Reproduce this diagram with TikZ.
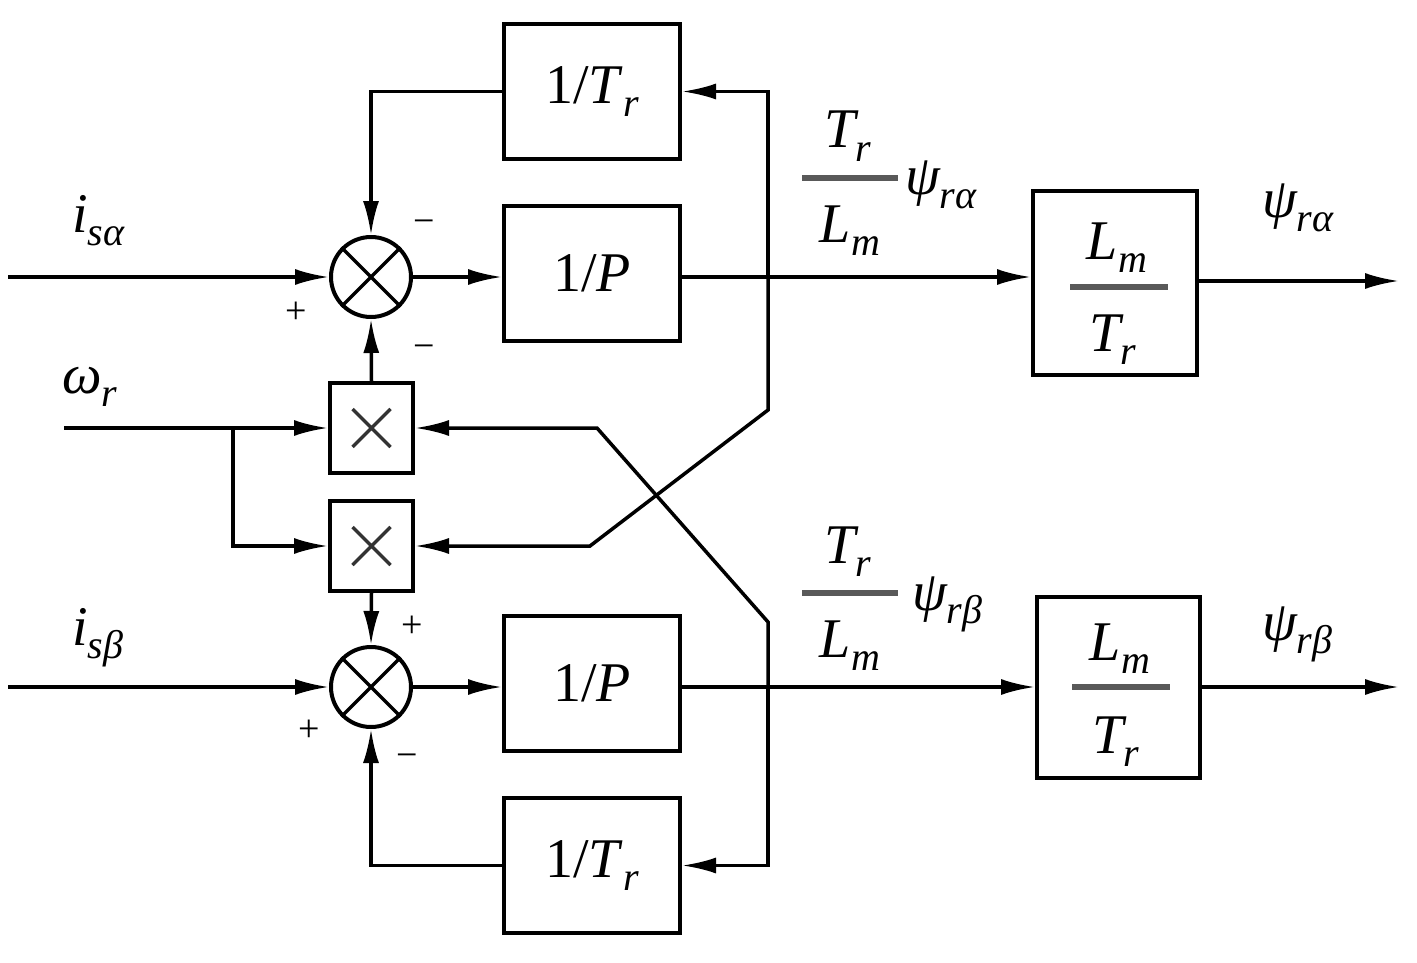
\documentclass[tikz,border=0pt]{standalone}
\usepackage{fontspec}
\setmainfont{LiberationSerif}[Extension=.ttf, UprightFont=*-Regular, ItalicFont=*-Italic, BoldFont=*-Bold, BoldItalicFont=*-BoldItalic]
\usetikzlibrary{arrows.meta}
\newcommand{\bigtxt}{\fontsize{56}{60}\selectfont}
\newcommand{\sbs}[1]{\raisebox{-0.24em}{\fontsize{40}{40}\selectfont\itshape #1}}
\begin{document}
\begin{tikzpicture}[x=1pt,y=-1pt,
  blk/.style={draw, line width=4pt, minimum width=176pt, minimum height=135pt, inner sep=0pt, font=\bigtxt},
  gain/.style={draw, line width=4pt, inner sep=0pt},
  mul/.style={draw, line width=4pt, minimum width=83pt, minimum height=90pt, inner sep=0pt},
  sumc/.style={draw, circle, line width=4pt, minimum size=80pt, inner sep=0pt},
  sig/.style={line width=3.5pt, -{Latex[length=34pt,width=16pt]}},
  wire/.style={line width=3.5pt},
  lbl/.style={font=\bigtxt, inner sep=0pt},
  sgn/.style={font=\fontsize{38}{38}\selectfont, inner sep=0pt},
  fbar/.style={line width=6pt, black!65}]
\useasboundingbox (0,0) rectangle (1417,963);
% blocks
\node[blk] (trA) at (592,91.5) {1/\textit{T}\sbs{r}};
\node[blk] (pA) at (592,273.5) {1/\textit{P}};
\node[sumc] (sA) at (371,277) {};
\node[mul] (mA) at (371.5,428) {};
\node[mul] (mB) at (371.5,546) {};
\node[sumc] (sB) at (371,687) {};
\node[blk] (pB) at (592,683.5) {1/\textit{P}};
\node[blk] (trB) at (592,865.5) {1/\textit{T}\sbs{r}};
\node[gain, minimum width=164pt, minimum height=184pt] (gA) at (1115,283) {};
\node[gain, minimum width=163pt, minimum height=181pt] (gB) at (1118.5,687.5) {};
% symbols inside summers and multipliers
\draw[line width=3.5pt] (sA.45) -- (sA.225) (sA.135) -- (sA.315);
\draw[line width=3.5pt] (sB.45) -- (sB.225) (sB.135) -- (sB.315);
\draw[line width=3.5pt, black!80] ([shift={(-19,-19)}]mA.center) -- ([shift={(19,19)}]mA.center)
  ([shift={(-19,19)}]mA.center) -- ([shift={(19,-19)}]mA.center);
\draw[line width=3.5pt, black!80] ([shift={(-19,-19)}]mB.center) -- ([shift={(19,19)}]mB.center)
  ([shift={(-19,19)}]mB.center) -- ([shift={(19,-19)}]mB.center);
% fractions inside gain blocks
\node[lbl, anchor=base] (gAn) at (1117,259) {\itshape L\sbs{m}};
\node[lbl, anchor=base] (gAd) at (1113,351) {\itshape T\sbs{r}};
\draw[fbar] (1070,287) -- (1168,287);
\node[lbl, anchor=base] (gBn) at (1120,660) {\itshape L\sbs{m}};
\node[lbl, anchor=base] (gBd) at (1116,753) {\itshape T\sbs{r}};
\draw[fbar] (1072,687) -- (1170,687);
% coordinates
\coordinate (inA) at (8,277);
\coordinate (inW) at (64,428);
\coordinate (brW) at (233,428);
\coordinate (inB) at (8,687);
\coordinate (tapA) at (768,277);
\coordinate (tapB) at (768,687);
\coordinate (outA) at (1399,281);
\coordinate (outB) at (1399,687);
\coordinate (kA1) at (768,410);
\coordinate (kA2) at (590,546);
\coordinate (kB1) at (768,622);
\coordinate (kB2) at (597,428);
% alpha channel
\draw[sig] (inA) -- (sA.west);
\draw[sig] (sA.east) -- (pA.west |- sA.east);
\draw[sig] (pA.east |- sA.east) -- (gA.west |- sA.east);
\draw[sig] (gA.east |- outA) -- (outA);
\draw[sig] (tapA) |- (trA.east);
\draw[sig] (trA.west) -| (sA.north);
\draw[sig] (tapA) -- (kA1) -- (kA2) -- (mB.east);
\draw[sig] (mA.north) -- (sA.south);
% omega
\draw[sig] (inW) -- (brW) -- (mA.west);
\draw[sig] (brW) |- (mB.west);
% beta channel
\draw[sig] (mB.south) -- (sB.north);
\draw[sig] (inB) -- (sB.west);
\draw[sig] (sB.east) -- (pB.west |- sB.east);
\draw[sig] (pB.east |- sB.east) -- (gB.west |- sB.east);
\draw[sig] (gB.east |- outB) -- (outB);
\draw[sig] (tapB) |- (trB.east);
\draw[sig] (trB.west) -| (sB.south);
\draw[sig] (tapB) -- (kB1) -- (kB2) -- (mA.east);
% signs
\node[sgn] (p1) at (296,313) {+};
\node[sgn] (m1) at (424,227) {−};
\node[sgn] (m2) at (424,352) {−};
\node[sgn] (p2) at (412,627) {+};
\node[sgn] (p3) at (309,731) {+};
\node[sgn] (m3) at (407,761) {−};
% signal labels
\node[lbl, anchor=base west] (lisa) at (72,232) {\itshape i\sbs{sα}};
\node[lbl, anchor=base west] (lw) at (62,393) {\itshape ω\sbs{r}};
\node[lbl, anchor=base west] (lisb) at (72,645) {\itshape i\sbs{sβ}};
% flux fractions
\node[lbl, anchor=base] (fAn) at (848,148) {\itshape T\sbs{r}};
\draw[fbar] (802,178) -- (898,178);
\node[lbl, anchor=base] (fAd) at (850,242) {\itshape L\sbs{m}};
\node[lbl, anchor=base west] (fApsi) at (905,195) {\itshape ψ\sbs{rα}};
\node[lbl, anchor=base] (fBn) at (848,563) {\itshape T\sbs{r}};
\draw[fbar] (802,593) -- (898,593);
\node[lbl, anchor=base] (fBd) at (850,657) {\itshape L\sbs{m}};
\node[lbl, anchor=base west] (fBpsi) at (912,610) {\itshape ψ\sbs{rβ}};
% outputs
\node[lbl, anchor=base west] (oA) at (1262,218) {\itshape ψ\sbs{rα}};
\node[lbl, anchor=base west] (oB) at (1262,640) {\itshape ψ\sbs{rβ}};
\end{tikzpicture}
\end{document}
